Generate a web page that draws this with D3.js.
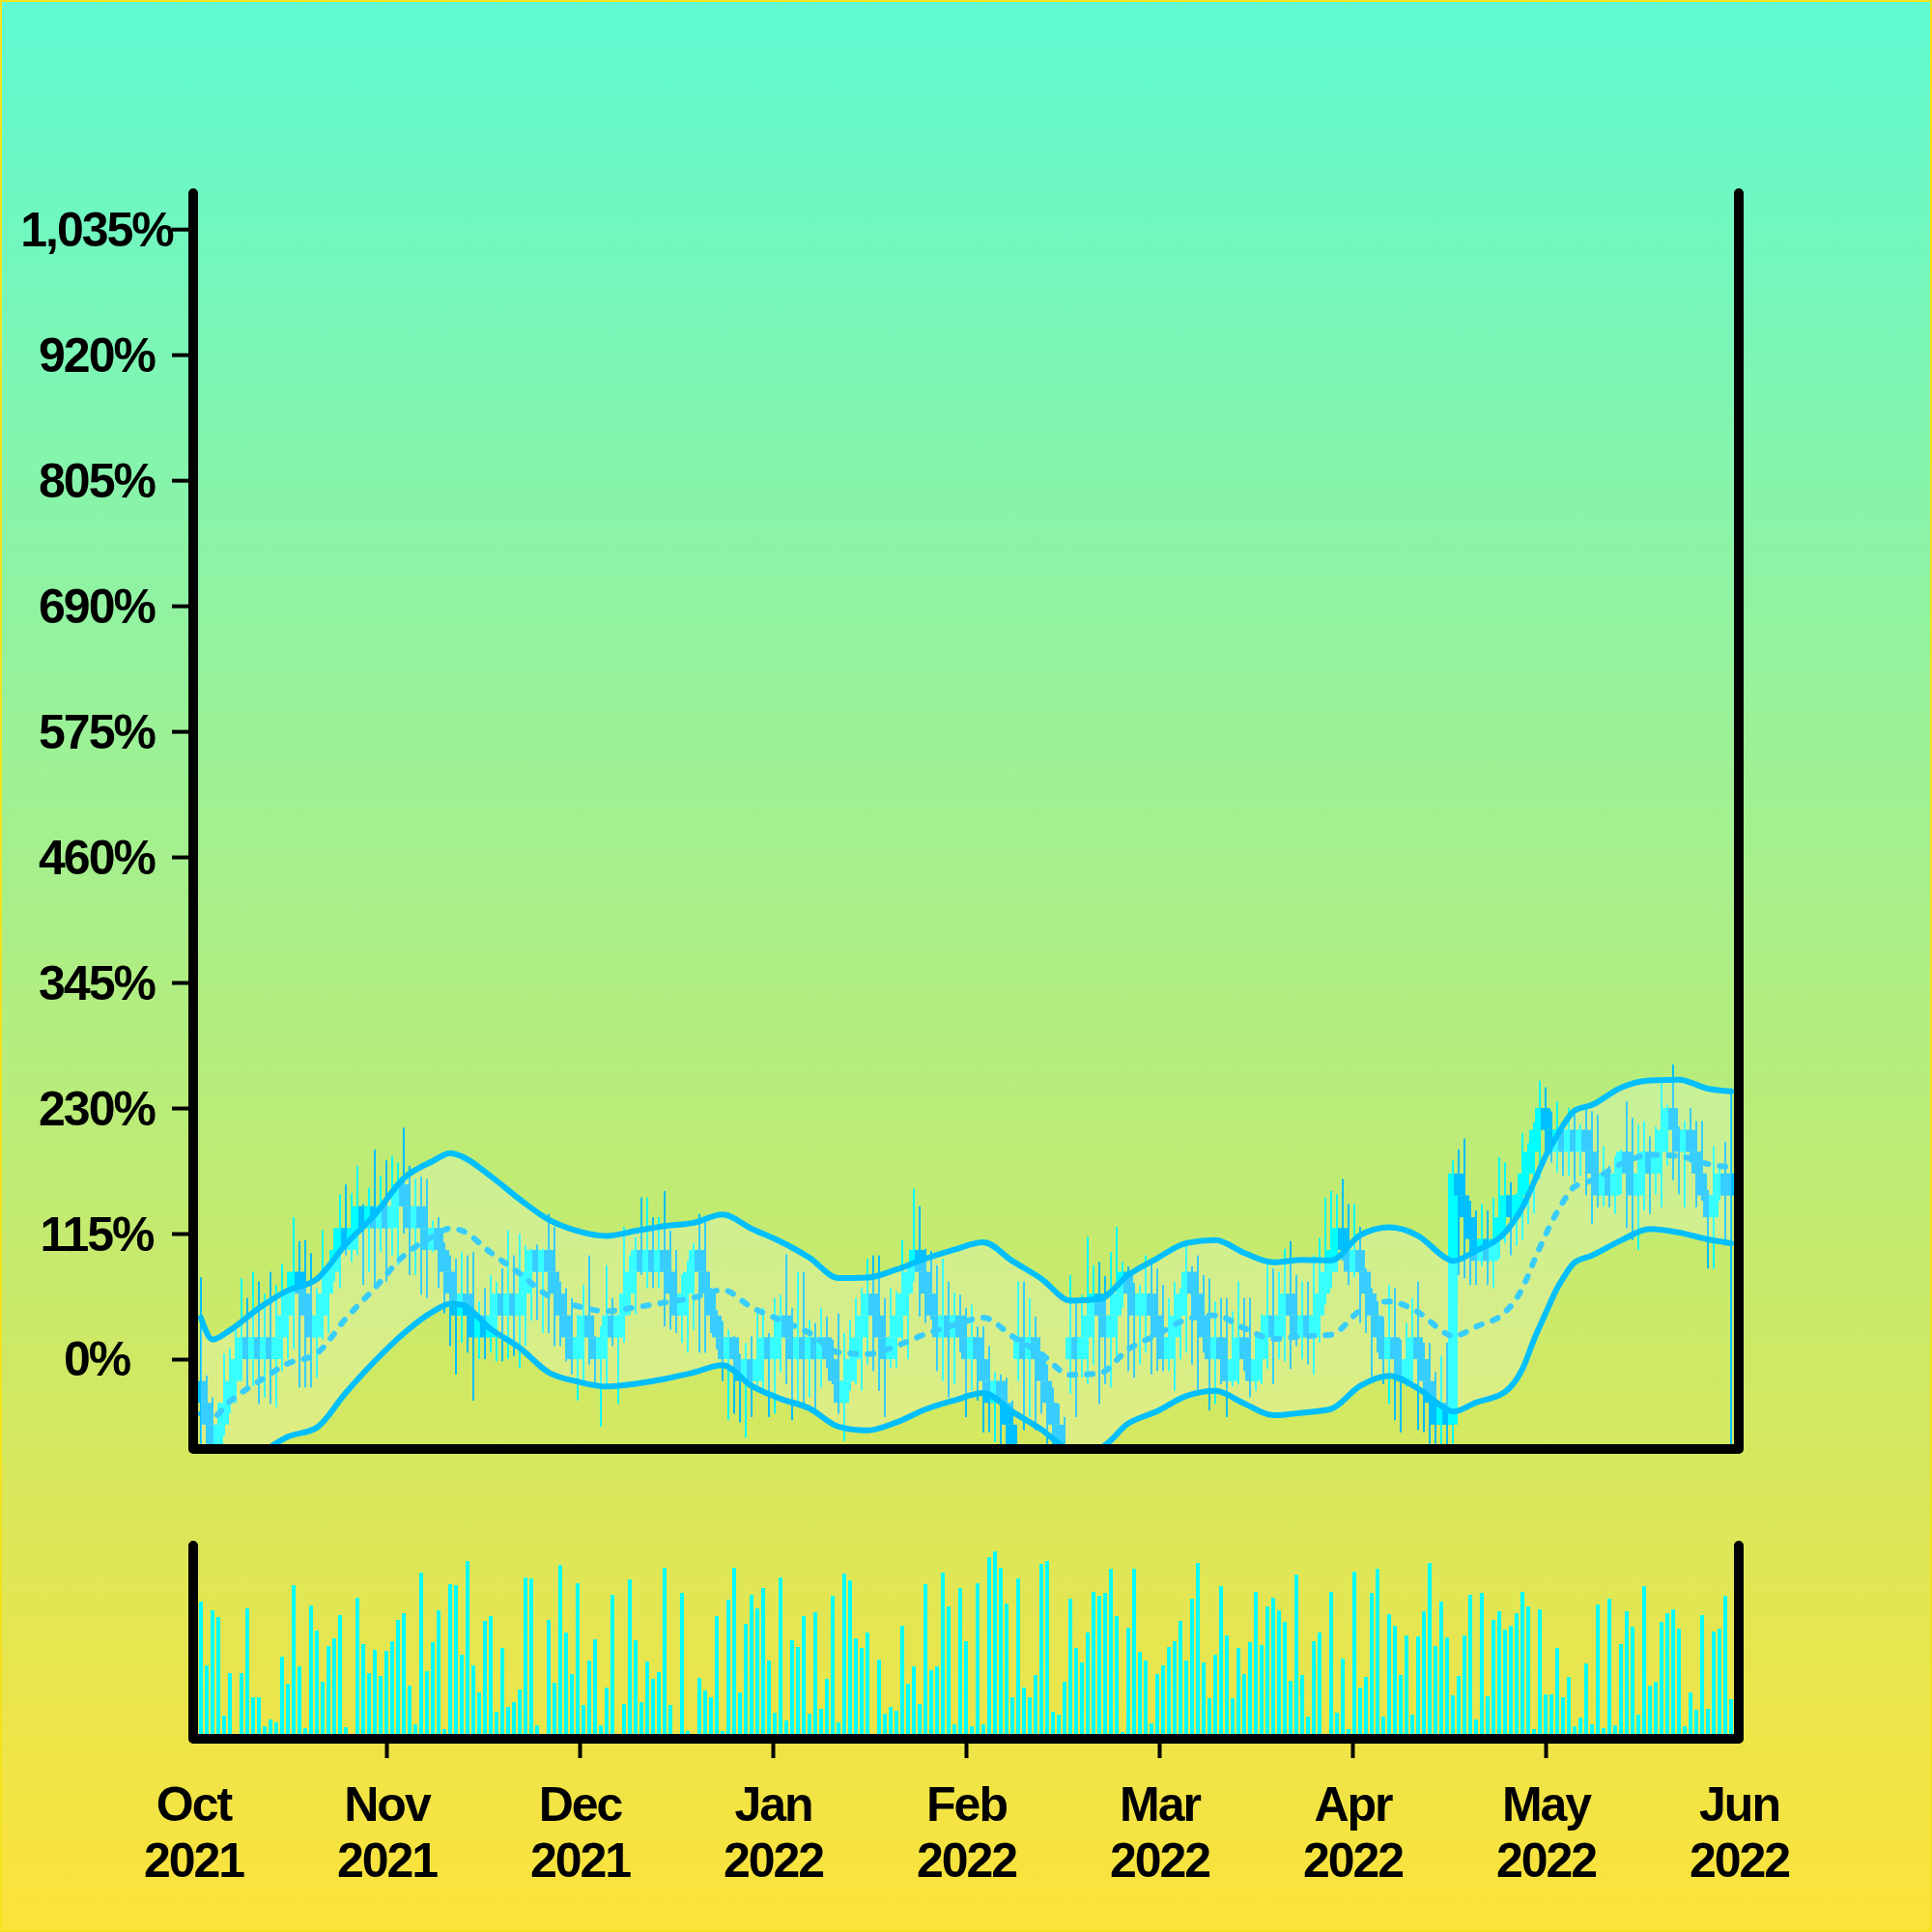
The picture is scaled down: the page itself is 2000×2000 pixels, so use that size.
<!DOCTYPE html>
<html><head><meta charset="utf-8">
<script src="https://cdn.jsdelivr.net/npm/d3@7"></script>
<style>html,body{margin:0;padding:0;background:#fff}svg{display:block}</style>
</head><body>
<svg id="chart" width="2000" height="2000"></svg>
<script>
// ---------- data ----------
const monthLabels = ["Oct","Nov","Dec","Jan","Feb","Mar","Apr","May","Jun"];
const yearLabels  = ["2021","2021","2021","2022","2022","2022","2022","2022","2022"];
const yTickValues = [0,115,230,345,460,575,690,805,920,1035];

const openPct = [
-20,-40,-60,-80,-60,-40,-20,0,20,0, 20,0,20,0,20,40,60,80,60,40,
20,40,60,80,100,120,100,120,140,120, 140,120,140,120,140,160,140,120,140,120,
100,120,100,80,60,40,60,40,20,40, 20,40,60,40,60,40,60,80,100,80,
100,80,60,40,20,0,20,40,20,0, 20,40,20,40,60,80,100,80,100,80,
100,80,60,40,60,80,100,80,60,40, 20,0,20,0,-20,0,-20,0,20,0,
20,40,20,0,20,0,20,0,20,0, -20,-40,-20,0,20,40,60,40,20,0,
20,40,60,80,100,80,60,40,20,40, 20,40,20,0,20,0,-20,-40,-20,-40,
-60,0,20,0,20,0,-20,-40,-60,-80, 0,20,0,20,40,60,40,20,40,60,
80,60,40,40,60,40,20,0,20,40, 60,80,60,40,20,0,20,0,-20,0,
20,0,-20,0,20,40,20,40,60,40, 20,40,20,40,60,80,100,120,100,80,
100,80,60,40,20,0,20,0,-20,0, 20,0,-20,-40,-60,-40,-60,170,150,130,
110,90,110,90,110,130,150,130,150,170, 190,210,230,210,190,210,190,210,190,210,
190,170,150,170,150,170,190,170,150,170, 190,170,190,210,230,210,190,210,190,170,
150,130,150,170,170];
const closePct = [
-40,-60,-80,-60,-40,-20,0,20,0,20, 0,20,0,20,40,60,80,60,40,20,
40,60,80,100,120,100,120,140,120,140, 120,140,120,140,160,140,120,140,120,100,
120,100,80,60,40,60,40,20,40,20, 40,60,40,60,40,60,80,100,80,100,
80,60,40,20,0,20,40,20,0,20, 40,20,40,60,80,100,80,100,80,100,
80,60,40,60,80,100,80,60,40,20, 0,20,0,-20,0,-20,0,20,0,20,
40,20,0,20,0,20,0,20,0,-20, -40,-20,0,20,40,60,40,20,0,20,
40,60,80,100,80,60,40,20,40,20, 40,20,0,20,0,-20,-40,-20,-40,-60,
-80,20,0,20,0,-20,-40,-60,-80,-100, 20,0,20,40,60,40,20,40,60,80,
60,40,60,60,40,20,0,20,40,60, 80,60,40,20,0,20,0,-20,0,20,
0,-20,0,20,40,20,40,60,40,20, 40,20,40,60,80,100,120,100,80,100,
80,60,40,20,0,20,0,-20,0,20, 0,-20,-40,-60,-40,-60,170,150,130,110,
90,110,90,110,130,150,130,150,170,190, 210,230,210,190,210,190,210,190,210,190,
170,150,170,150,170,190,170,150,170,190, 170,190,210,230,210,190,210,190,170,150,
130,150,170,150,150];
const highPct = [
75,-15,-35,-40,5,10,30,74,56,80, 71,60,80,68,87,80,130,108,109,97,
65,118,83,120,151,160,152,177,142,157, 192,168,182,186,180,212,177,165,167,165,
127,130,107,95,92,98,95,98,53,65, 77,71,83,118,95,115,104,101,105,101,
133,121,71,65,56,41,68,95,21,30, 86,56,41,121,95,112,148,148,130,130,
154,118,100,78,90,106,133,126,65,45, 35,27,21,5,15,21,42,47,24,56,
59,96,47,80,80,36,33,47,39,18, 42,24,36,56,65,92,95,95,56,65,
62,109,89,156,140,101,99,86,92,71, 61,59,47,50,30,30,12,-12,-14,-17,
-38,71,71,56,39,6,-5,-26,-41,-53, 77,56,59,112,86,89,76,98,121,89,
85,70,68,95,89,83,68,56,71,65, 109,85,95,77,74,53,56,56,44,71,
56,56,21,41,92,83,80,101,108,77, 71,71,95,111,148,154,151,165,142,142,
121,83,65,53,39,68,65,18,33,56, 71,15,15,-12,3,15,182,192,202,145,
136,142,136,148,185,180,162,152,207,198, 217,255,249,227,236,212,230,224,215,229,
227,224,195,177,186,192,236,221,215,218, 204,213,254,233,270,213,218,230,218,218,
155,195,178,199,248];
const lowPct = [
-95,-90,-95,-95,-70,-50,-40,-20,-29,-25, -41,-35,-41,-44,-11,0,9,-26,-26,-26,
-17,18,24,71,65,95,89,95,68,80, 68,98,71,95,86,115,77,77,59,56,
98,65,42,12,-14,15,6,-38,0,0, 6,-2,-2,0,3,-8,12,35,36,24,
24,12,12,-2,-14,-38,-23,-5,-23,-62, -23,12,-41,15,41,41,77,65,65,65,
30,27,24,15,6,27,6,6,24,9, -20,-56,-50,-58,-72,-53,-25,-29,-53,-50,
-12,-23,-56,-38,-41,-35,-47,-26,-8,-23, -50,-75,-29,-23,-29,-5,-11,-29,-53,-8,
-8,18,0,71,39,33,36,-11,-20,-35, -23,6,-53,-29,-38,-67,-67,-76,-80,-85,
-90,-20,-65,-53,-65,-50,-85,-85,-90,-110, -32,-53,-17,-23,-5,-41,-23,-26,0,47,
-11,-17,-5,6,-14,-11,-11,-11,-29,0, 6,-5,-29,6,-47,-41,-23,-53,-25,-23,
-11,-35,-29,-23,-9,-23,0,-2,-9,12, 0,-5,-14,15,50,65,80,90,68,75,
33,24,-17,6,-23,-41,-56,-67,-25,-23, -65,-67,-80,-85,-85,-90,-90,77,74,68,
68,85,68,65,92,106,95,104,109,124, 133,165,186,180,171,168,168,162,168,150,
124,139,140,139,133,151,120,109,100,136, 133,151,139,177,164,151,139,180,139,145,
83,83,145,104,-95];
const volume = [
142,76,133,126,24,68,1,68,135,43, 43,13,20,17,85,57,159,75,11,138,
112,59,96,104,128,12,0,146,98,68, 92,65,91,101,123,130,55,15,172,70,
100,133,10,160,159,87,184,76,48,122, 127,28,94,33,38,51,167,166,14,0,
123,58,180,110,67,161,35,81,103,14, 53,149,2,36,165,102,38,80,62,69,
177,35,0,151,8,0,63,50,43,127, 8,144,177,48,119,149,135,156,81,27,
167,19,102,95,127,26,131,31,62,148, 17,171,164,104,94,110,0,82,26,33,
29,117,57,75,36,160,71,75,172,137, 15,156,101,13,161,15,188,194,177,140,
43,166,53,43,66,181,184,28,25,59, 145,94,79,110,152,148,151,176,127,7,
115,176,90,81,16,67,76,95,101,122, 81,145,182,79,42,87,158,107,42,94,
67,100,152,97,137,146,133,121,60,170, 66,23,101,110,0,152,27,83,10,173,
53,64,151,176,23,129,117,66,107,25, 106,132,182,96,142,105,45,65,107,149,
20,151,44,123,132,113,117,130,152,137, 10,134,46,46,94,43,64,13,22,78,
15,139,11,145,14,98,132,116,25,158, 55,59,121,130,134,114,13,48,30,128,
31,111,114,148,41];

// band (moving average and its half width), read at these bar indices
const bandIdx  = [0,2,5,10,15,20,25,30,35,40,43,45,50,55,60,65,70,75,80,85,90,95,100,105,110,115,120,125,130,135,140,145,150,155,160,165,170,175,180,185,190,195,200,205,210,215,216,220,225,228,230,232,234,235,237,240,245,250,255,260,264];
const bandMid  = [-50,-53,-38.6,-20.3,-4.1,5.3,37.2,65.2,94.7,112.4,119.7,117.7,97.6,78.4,57.8,48.4,43.9,47.5,51.9,56.3,63.4,47.5,35.7,23.9,6.2,4.7,12.1,23,31.3,38,20.9,4.7,-14.4,-13,9.1,22.4,36.3,40.1,28.3,18.6,20.9,22.4,44.5,52.8,43,23,20.9,29.8,43,65,90,114,135,144,158,163.9,178.7,187.2,186,178.7,175.7];
const bandHalf = [88,71,65,67,67,68,68,67,71,69,69,68,70,68,70,69,69,70,70,68.5,69,72,72,69,68,70,70,69,69,69,69,69,68,68,68,70,70,69,69,70,70,68,69,68,70,69,69,69.5,73,74,72,72,70,70,69.5,69,70,68,70,69,69.6];

// ---------- build ----------
const N = closePct.length;
const candles = d3.range(N).map(i => ({i, o: openPct[i], c: closePct[i], h: highPct[i], l: lowPct[i], v: volume[i]}));
const band = bandIdx.map((b, k) => ({i: b, mid: bandMid[k], up: bandMid[k] + bandHalf[k], lo: bandMid[k] - bandHalf[k]}));

const svg = d3.select("#chart");
const W = 2000, H = 2000;
const L = 200, R = 1800, T = 200, B = 1500, VT = 1600, VB = 1800;

const defs = svg.append("defs");
const grad = defs.append("linearGradient").attr("id","bg").attr("x1",0).attr("y1",0).attr("x2",0).attr("y2",1);
grad.append("stop").attr("offset","0%").attr("stop-color","#5ffad2");
grad.append("stop").attr("offset","50%").attr("stop-color","#aeee84");
grad.append("stop").attr("offset","100%").attr("stop-color","#fde23a");
defs.append("clipPath").attr("id","clipMain").append("rect").attr("x",L).attr("y",T).attr("width",R-L).attr("height",B-T);
defs.append("clipPath").attr("id","clipVol").append("rect").attr("x",L).attr("y",VT).attr("width",R-L).attr("height",VB-VT);

svg.append("rect").attr("width",W).attr("height",H).attr("fill","url(#bg)");
svg.append("rect").attr("x",1).attr("y",1).attr("width",W-2).attr("height",H-2).attr("fill","none").attr("stroke","#f4e21c").attr("stroke-width",2);

const x = d3.scaleBand().domain(d3.range(N)).range([L, R]).paddingInner(0).paddingOuter(0.83);
const xc = i => x(i) + x.bandwidth()/2;
const xi = d3.scaleLinear().domain([0, N-1]).range([xc(0), xc(N-1)]);
const xm = d3.scaleLinear().domain([0, monthLabels.length-1]).range([L, R]);
const y = d3.scaleLinear().domain([-82.3, 1067.9]).range([B, T]);
const yv = d3.scaleLinear().domain([0, 200]).range([VB, VT]);

const UP = "#00ffff", DOWN = "#00bfff";

// candles
const gMain = svg.append("g").attr("clip-path","url(#clipMain)");
const cg = gMain.append("g").selectAll("g").data(candles).join("g");
cg.append("line")
  .attr("x1", d => xc(d.i)).attr("x2", d => xc(d.i))
  .attr("y1", d => y(d.h)).attr("y2", d => y(d.l))
  .attr("stroke", d => d.c >= d.o ? UP : DOWN).attr("stroke-width", 2);
cg.append("rect")
  .attr("x", d => xc(d.i) - 5).attr("width", 10)
  .attr("y", d => y(Math.max(d.o, d.c)))
  .attr("height", d => Math.max(1, Math.abs(y(d.o) - y(d.c))))
  .attr("fill", d => d.c >= d.o ? UP : DOWN);

// middle line (under the band veil)
const curve = d3.curveMonotoneX;
gMain.append("path").datum(band)
  .attr("d", d3.line().x(d => xi(d.i)).y(d => y(d.mid)).curve(curve))
  .attr("fill","none").attr("stroke","#00bfff").attr("stroke-width",6)
  .attr("stroke-dasharray","6,12").attr("stroke-linecap","round");

// band veil
gMain.append("path").datum(band)
  .attr("d", d3.area().x(d => xi(d.i)).y0(d => y(d.lo)).y1(d => y(d.up)).curve(curve))
  .attr("fill","rgba(255,255,255,0.22)");

// band edges
["up","lo"].forEach(k => {
  gMain.append("path").datum(band)
    .attr("d", d3.line().x(d => xi(d.i)).y(d => y(d[k])).curve(curve))
    .attr("fill","none").attr("stroke","#00bfff").attr("stroke-width",6)
    .attr("stroke-linejoin","round").attr("stroke-linecap","round");
});

// volume
svg.append("g").attr("clip-path","url(#clipVol)").selectAll("rect").data(candles).join("rect")
  .attr("x", d => xc(d.i) - 2).attr("width", 4)
  .attr("y", d => yv(d.v)).attr("height", d => yv(0) - yv(d.v))
  .attr("fill", UP);

// axes frames
const frame = (top, bottom) => `M${L},${top}V${bottom}H${R}V${top}`;
svg.append("path").attr("d", frame(T, B)).attr("fill","none").attr("stroke","#000")
  .attr("stroke-width",10).attr("stroke-linecap","round").attr("stroke-linejoin","round");
svg.append("path").attr("d", frame(VT, VB)).attr("fill","none").attr("stroke","#000")
  .attr("stroke-width",10).attr("stroke-linecap","round").attr("stroke-linejoin","round");

const font = "'Liberation Sans', Arial, Helvetica, sans-serif";

// y axis ticks and labels
const yAxis = svg.append("g").call(d3.axisLeft(y).tickValues(yTickValues).tickSize(22).tickFormat(d => d3.format(",")(d) + "%"))
  .attr("transform", `translate(${L},0)`);
yAxis.select(".domain").remove();
yAxis.selectAll(".tick line").attr("stroke","#000").attr("stroke-width",4);
yAxis.selectAll(".tick text").attr("x", 100 - L).attr("text-anchor","middle").attr("dy","0.34em")
  .attr("fill","#000").style("font-family", font).style("font-weight","bold").style("font-size","50px").style("letter-spacing","-2px");

// x axis ticks and labels
const lastM = monthLabels.length - 1;
const xAxis = svg.append("g").attr("transform", `translate(0,${VB})`)
  .call(d3.axisBottom(xm).tickValues(d3.range(monthLabels.length)).tickSize(20).tickFormat(() => ""));
xAxis.select(".domain").remove();
xAxis.selectAll(".tick line").attr("stroke","#000").attr("stroke-width",4)
  .attr("display", d => (d === 0 || d === lastM) ? "none" : null);
xAxis.selectAll(".tick text").remove();
xAxis.selectAll(".tick").append("text")
  .attr("text-anchor","middle").attr("fill","#000")
  .style("font-family", font).style("font-weight","bold").style("font-size","50px").style("letter-spacing","-2px")
  .each(function(d) {
    const t = d3.select(this);
    t.append("tspan").attr("x", 0).attr("y", 85).text(monthLabels[d]);
    t.append("tspan").attr("x", 0).attr("y", 143).text(yearLabels[d]);
  });
</script>
</body></html>
